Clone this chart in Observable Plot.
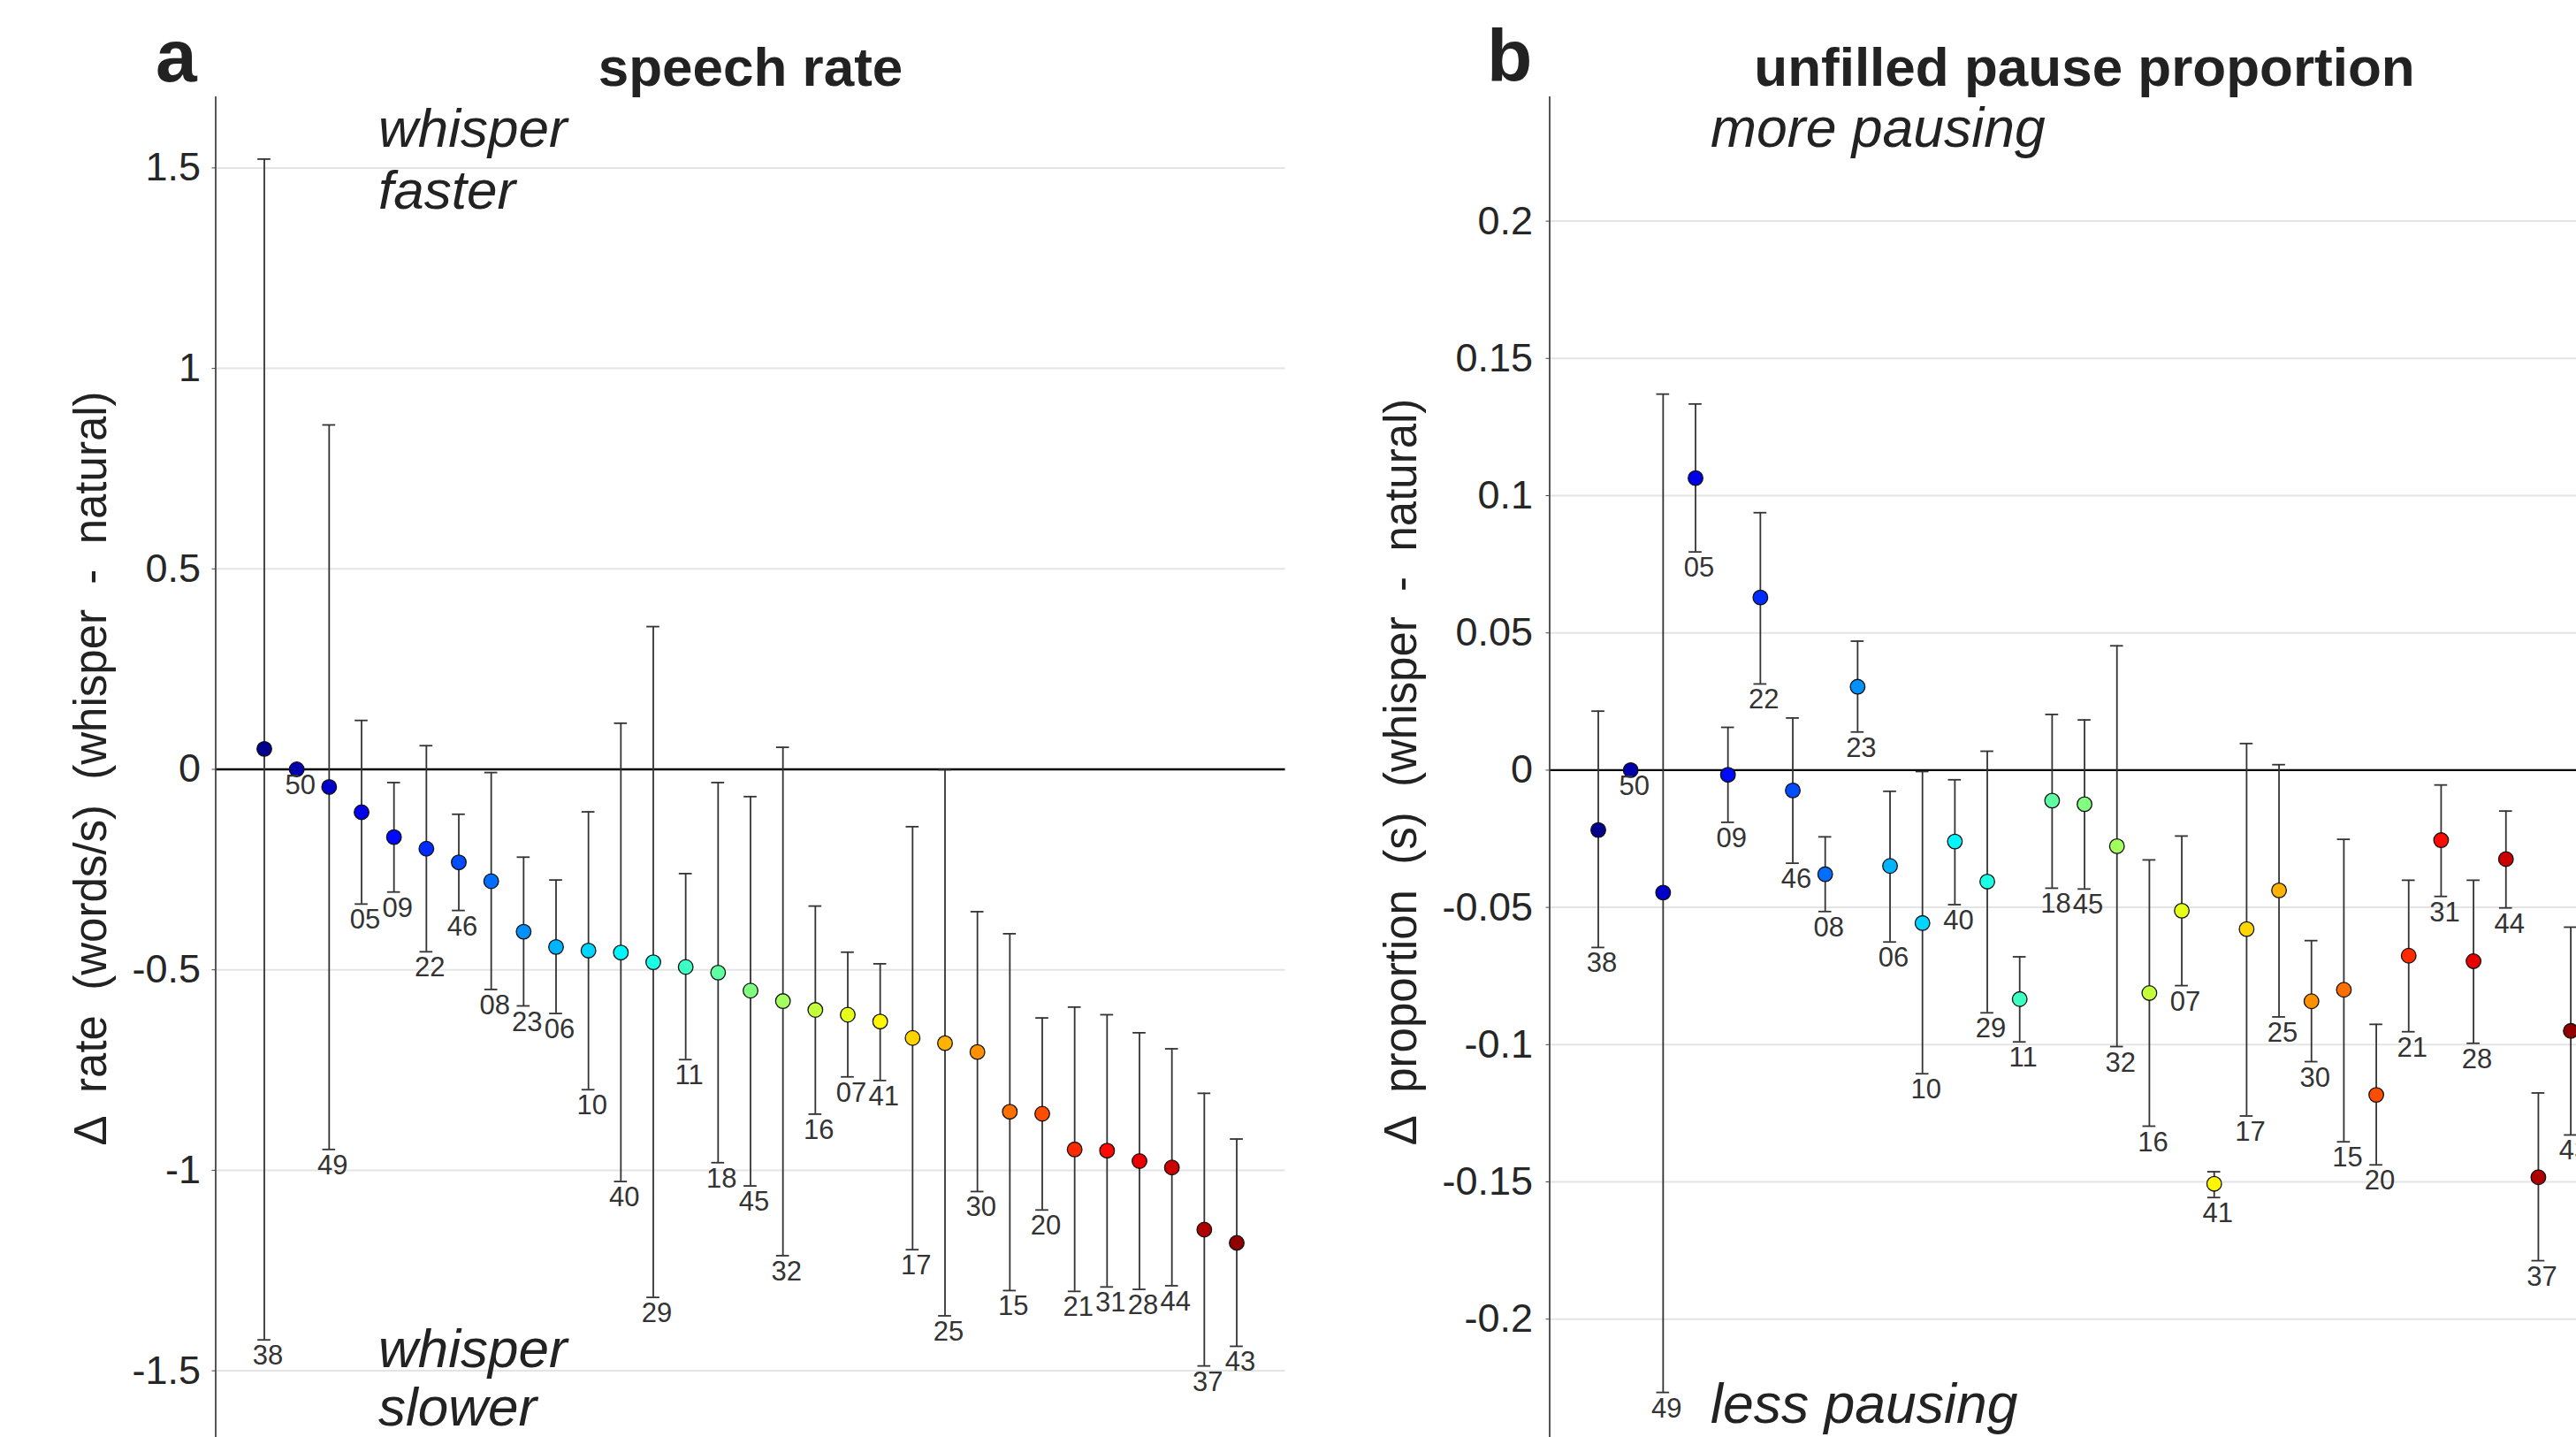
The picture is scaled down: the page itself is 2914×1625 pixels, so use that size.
<!DOCTYPE html>
<html>
<head>
<meta charset="utf-8">
<script src="https://cdn.jsdelivr.net/npm/d3@7"></script>
<script src="https://cdn.jsdelivr.net/npm/@observablehq/plot@0.6"></script>
<style>
  html, body { margin: 0; padding: 0; background: #fff; overflow: hidden; }
  #wrap { position: relative; width: 2914px; height: 1625px; overflow: hidden; background: #fff; }
  #wrap > svg, #wrap > .p { position: absolute; top: 0; }
  .lbl { font-family: "Liberation Sans", Arial, sans-serif; fill: #222; white-space: pre; }
</style>
</head>
<body>
<div id="wrap"></div>
<script>
// ---- data ----
const ids = ["38","50","49","05","09","22","46","08","23","06","10","40","29","11","18","45","32","16","07","41","17","25","30","15","20","21","31","28","44","37","43"];

// panel a: speech rate change (words/s)
const rateMean = [0.051, 0.0, -0.044, -0.107, -0.169, -0.198, -0.232, -0.279, -0.405, -0.443, -0.452, -0.457, -0.481, -0.493, -0.507, -0.552, -0.578, -0.600, -0.612, -0.629, -0.670, -0.683, -0.705, -0.854, -0.859, -0.948, -0.951, -0.977, -0.993, -1.148, -1.181];
const rateHi   = [1.522, 0.0, 0.859, 0.122, -0.033, 0.059, -0.112, -0.008, -0.219, -0.276, -0.106, 0.115, 0.356, -0.260, -0.033, -0.068, 0.055, -0.341, -0.456, -0.485, -0.143, -0.001, -0.355, -0.410, -0.620, -0.593, -0.612, -0.657, -0.697, -0.808, -0.922];
const rateLo   = [-1.423, 0.0, -0.948, -0.336, -0.306, -0.455, -0.352, -0.549, -0.590, -0.609, -0.799, -1.028, -1.317, -0.724, -0.981, -1.039, -1.213, -0.860, -0.767, -0.776, -1.198, -1.363, -1.053, -1.300, -1.099, -1.302, -1.291, -1.297, -1.288, -1.488, -1.439];

// panel b: unfilled pause proportion change
const pauseMean = [-0.0218, 0.0, -0.0446, 0.1064, -0.0017, 0.0629, -0.0074, -0.0379, 0.0304, -0.0349, -0.0557, -0.0260, -0.0406, -0.0834, -0.0111, -0.0124, -0.0277, -0.0812, -0.0512, -0.1507, -0.0579, -0.0438, -0.0842, -0.0800, -0.1183, -0.0676, -0.0255, -0.0696, -0.0324, -0.1483, -0.0950];
const pauseHi   = [0.0215, 0.0, 0.1370, 0.1334, 0.0156, 0.0938, 0.0190, -0.0243, 0.0470, -0.0077, -0.0005, -0.0035, 0.0069, -0.0680, 0.0203, 0.0183, 0.0453, -0.0327, -0.0240, -0.1463, 0.0097, 0.0020, -0.0621, -0.0252, -0.0926, -0.0401, -0.0054, -0.0401, -0.0149, -0.1176, -0.0572];
const pauseLo   = [-0.0646, 0.0, -0.2267, 0.0795, -0.0190, 0.0314, -0.0339, -0.0515, 0.0139, -0.0626, -0.1106, -0.0490, -0.0884, -0.0990, -0.0430, -0.0433, -0.1007, -0.1297, -0.0785, -0.1557, -0.1260, -0.0899, -0.1062, -0.1354, -0.1438, -0.0953, -0.0460, -0.0995, -0.0502, -0.1787, -0.1329];

const rateTicks  = [1.5, 1, 0.5, 0, -0.5, -1, -1.5];
const pauseTicks = [0.2, 0.15, 0.1, 0.05, 0, -0.05, -0.1, -0.15, -0.2];

// ---- styling ----
const FONT = '"Liberation Sans", Arial, sans-serif';
const jet = d3.piecewise(d3.interpolateRgb, ["#00008f", "#0000ff", "#0080ff", "#00ffff", "#80ff80", "#ffff00", "#ff8000", "#ff0000", "#900000"]);
const n = ids.length;
const colorOf = i => jet(i / (n - 1));
const CAP = 0.2; // cap half-width in index units

function rows(mean, hi, lo) {
  return ids.map((id, i) => ({id, i, v: mean[i], hi: hi[i], lo: lo[i], color: colorOf(i)}));
}

function panel(data, ticks, ydom, opts) {
  const xdom = [-1.5, n + 0.5];
  const bars = data.filter(d => d.hi !== d.lo);
  return Plot.plot({
    width: opts.width, height: 1625,
    marginLeft: opts.marginLeft, marginRight: opts.marginRight, marginTop: 109, marginBottom: 0,
    x: {domain: xdom, axis: null},
    y: {domain: ydom, axis: null},
    color: {type: "identity"},
    style: {fontFamily: FONT, background: "transparent", color: "#262626", overflow: "visible"},
    marks: [
      Plot.gridY(ticks, {stroke: "#e4e4e4", strokeOpacity: 1, strokeWidth: 2}),
      Plot.ruleY([0], {stroke: "#000", strokeWidth: 2.4}),
      Plot.ruleX([xdom[0]], {stroke: "#444", strokeWidth: 1.8}),
      Plot.axisY(ticks, {tickSize: 4, tickPadding: opts.tickPadding, fontSize: 45, tickFormat: d => String(d), label: null, stroke: "#444"}),
      Plot.ruleX(bars, {x: "i", y1: "lo", y2: "hi", stroke: "#333", strokeWidth: 1.8}),
      Plot.ruleY(bars, {x1: d => d.i - CAP, x2: d => d.i + CAP, y: "hi", stroke: "#333", strokeWidth: 1.8}),
      Plot.ruleY(bars, {x1: d => d.i - CAP, x2: d => d.i + CAP, y: "lo", stroke: "#333", strokeWidth: 1.8}),
      Plot.dot(data, {x: "i", y: "v", r: 8.3, fill: "color", stroke: "#111", strokeWidth: 1.3}),
      Plot.text(data, {x: "i", y: "lo", text: "id", dx: 4, dy: 6, lineAnchor: "top", fontSize: 31, fill: "#333", fontFamily: FONT})
    ]
  });
}

const wrap = document.getElementById("wrap");

const a = panel(rows(rateMean, rateHi, rateLo), rateTicks, [-1.6663, 1.6773],
  {width: 1500, marginLeft: 243.5, marginRight: 46.5, tickPadding: 13});
a.style.left = "0px";
wrap.appendChild(a);

const b = panel(rows(pauseMean, pauseHi, pauseLo), pauseTicks, [-0.2431, 0.2453],
  {width: 1470, marginLeft: 252.5, marginRight: 7.4, tickPadding: 15});
b.style.left = "1500px";
wrap.appendChild(b);

// ---- text overlay: panel letters, titles, annotations, y labels ----
const svgNS = "http://www.w3.org/2000/svg";
const ov = document.createElementNS(svgNS, "svg");
ov.setAttribute("width", 2914); ov.setAttribute("height", 1625);
ov.style.left = "0px"; ov.style.pointerEvents = "none";
wrap.appendChild(ov);

function txt(s, x, y, size, attrs = {}) {
  const t = document.createElementNS(svgNS, "text");
  t.setAttribute("class", "lbl");
  t.setAttribute("x", x); t.setAttribute("y", y);
  t.setAttribute("font-size", size);
  for (const k in attrs) t.setAttribute(k, attrs[k]);
  t.textContent = s;
  ov.appendChild(t);
  return t;
}

txt("a", 176, 92, 84, {"font-weight": "bold"});
txt("speech rate", 849, 97, 62, {"font-weight": "bold", "text-anchor": "middle"});
txt("b", 1682, 92, 84, {"font-weight": "bold"});
txt("unfilled pause proportion", 2358, 97, 62, {"font-weight": "bold", "text-anchor": "middle"});

txt("whisper", 428, 166, 62, {"font-style": "italic"});
txt("faster", 428, 236, 62, {"font-style": "italic"});
txt("whisper", 428, 1546, 62, {"font-style": "italic"});
txt("slower", 428, 1612, 62, {"font-style": "italic"});
txt("more pausing", 1935, 166, 62.5, {"font-style": "italic"});
txt("less pausing", 1935, 1609, 62.5, {"font-style": "italic"});

txt("Δ  rate  (words/s)  (whisper  -  natural)", 0, 0, 51,
  {"text-anchor": "middle", transform: "translate(119.5,869) rotate(-90)"});
txt("Δ  proportion  (s)  (whisper  -  natural)", 0, 0, 51,
  {"text-anchor": "middle", transform: "translate(1602,873) rotate(-90)"});
</script>
</body>
</html>
